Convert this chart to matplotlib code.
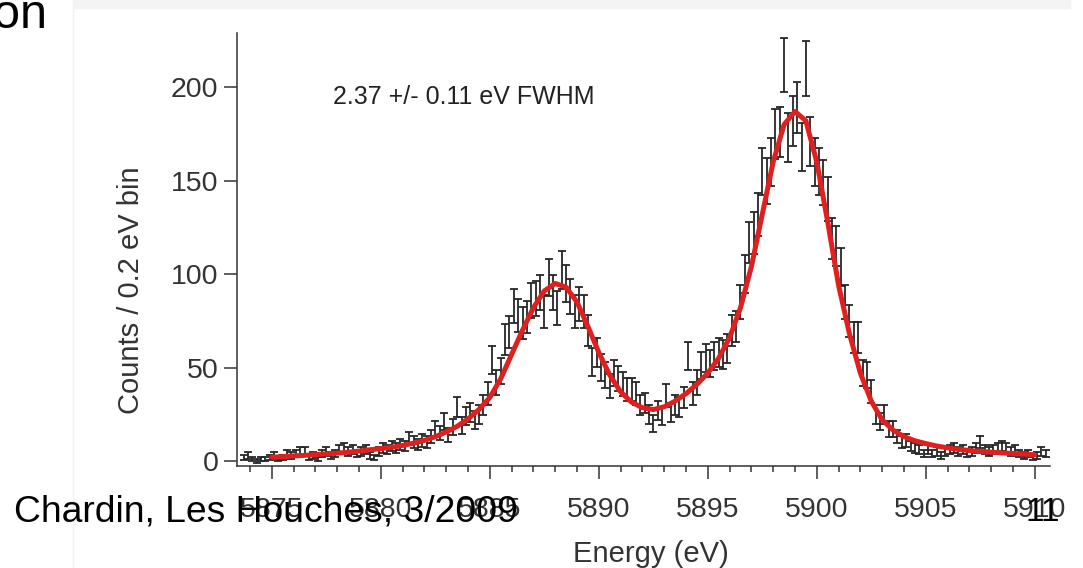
import numpy as np
import matplotlib
matplotlib.use("Agg")
import matplotlib.pyplot as plt
from matplotlib.ticker import MultipleLocator

plt.rcParams['font.family'] = ['Liberation Sans', 'DejaVu Sans']

# ---------------- data ----------------
# measured spectrum, 0.2 eV bins starting at 5873.7 eV
bin_start = 5873.7
bin_width = 0.2
counts = [
    2, 3, 1, 0, 1, 1, 2, 3, 1, 2,
    4, 3, 4, 5, 5, 2, 3, 1, 4, 5,
    3, 4, 6, 7, 5, 6, 4, 5, 6, 3,
    2, 5, 7, 6, 8, 7, 9, 8, 12, 10,
    9, 11, 10, 13, 17, 15, 21, 14, 18, 29,
    19, 24, 26, 22, 25, 30, 36, 54, 42, 48,
    65, 69, 83, 78, 74, 77, 86, 87, 90, 80,
    98, 90, 82, 102, 95, 88, 80, 84, 80, 70,
    53, 58, 50, 46, 40, 47, 44, 41, 38, 38,
    36, 30, 31, 25, 20, 27, 24, 35, 26, 30,
    29, 34, 56, 36, 42, 51, 55, 52, 56, 58,
    57, 60, 70, 72, 85, 100, 117, 122, 132, 155,
    150, 160, 175, 176, 212, 173, 182, 189, 168, 210,
    171, 160, 155, 149, 140, 119, 115, 104, 85, 75,
    66, 66, 47, 46, 37, 25, 21, 25, 17, 17,
    13, 10, 11, 8, 7, 6, 4, 6, 4, 5,
    3, 5, 6, 7, 5, 6, 4, 5, 7, 10,
    6, 5, 6, 7, 8, 7, 5, 6, 4, 3,
    4, 2, 3, 5, 4,
]

# fitted line (red), sampled every 0.5 eV
fit_energy = [
    5875.0, 5875.5, 5876.0, 5876.5, 5877.0, 5877.5, 5878.0, 5878.5, 5879.0, 5879.5,
    5880.0, 5880.5, 5881.0, 5881.5, 5882.0, 5882.5, 5883.0, 5883.5, 5884.0, 5884.5,
    5885.0, 5885.5, 5886.0, 5886.5, 5887.0, 5887.5, 5888.0, 5888.5, 5889.0, 5889.5,
    5890.0, 5890.5, 5891.0, 5891.5, 5892.0, 5892.5, 5893.0, 5893.5, 5894.0, 5894.5,
    5895.0, 5895.5, 5896.0, 5896.5, 5897.0, 5897.5, 5898.0, 5898.5, 5899.0, 5899.5,
    5900.0, 5900.5, 5901.0, 5901.5, 5902.0, 5902.5, 5903.0, 5903.5, 5904.0, 5904.5,
    5905.0, 5905.5, 5906.0, 5906.5, 5907.0, 5907.5, 5908.0, 5908.5, 5909.0, 5909.5,
    5910.0,
]
fit_counts = [
    2.0, 2.3, 2.7, 3.0, 3.4, 3.8, 4.2, 4.7, 5.3, 6.0,
    6.6, 7.3, 8.3, 9.5, 11.0, 13.0, 15.5, 18.5, 22.5, 27.5,
    34, 44, 57, 70, 82, 91, 95, 93, 85, 72,
    58, 46, 37, 31.5, 28.5, 27.5, 29, 32, 36, 41,
    47, 55, 66, 82, 104, 132, 160, 180, 187, 182,
    160, 128, 94, 68, 47, 32, 22, 16.5, 13, 10.8,
    9.3, 8.0, 7.0, 6.2, 5.6, 5.1, 4.7, 4.3, 4.0, 3.7,
    3.3,
]

x_ticks = [5875, 5880, 5885, 5890, 5895, 5900, 5905, 5910]
y_ticks = [0, 50, 100, 150, 200]

counts = np.array(counts, dtype=float)
energy = bin_start + bin_width * np.arange(len(counts))
errors = np.sqrt(np.maximum(counts, 1))  # poisson errors

# ---------------- figure ----------------
fig = plt.figure(figsize=(10.83, 5.68), dpi=100)
W, H = 1083, 568

# slide decorations (light band on top, edge of pasted picture)
fig.patches.append(plt.Rectangle((73 / W, 1 - 8 / H), (1070 - 73) / W, 8 / H,
                                 transform=fig.transFigure, color='#f4f4f4', zorder=0))
fig.lines.append(plt.Line2D([73 / W, 73 / W], [0, 1 - 8 / H], transform=fig.transFigure,
                            color='#f2f2f2', lw=1, zorder=0))

ax = fig.add_axes([237 / W, (568 - 466) / H, (1050 - 237) / W, (466 - 33) / H])
ax.patch.set_alpha(0)

dark = '#333333'
ax.errorbar(energy, counts, yerr=errors, fmt='none', ecolor='#262626',
            elinewidth=1.3, capsize=3.0, capthick=1.3, zorder=2)
ax.plot(fit_energy, fit_counts, color='#e01f1f', lw=3.6, zorder=3,
        solid_capstyle='round')

ax.set_xlim(5873.4, 5910.7)
ax.set_ylim(-2.7, 229)
ax.set_xticks(x_ticks)
ax.set_yticks(y_ticks)
ax.xaxis.set_minor_locator(MultipleLocator(1))

for s in ['top', 'right']:
    ax.spines[s].set_visible(False)
for s in ['left', 'bottom']:
    ax.spines[s].set_color(dark)
    ax.spines[s].set_linewidth(1.1)

ax.tick_params(axis='both', which='major', labelsize=20.5, colors=dark,
               labelcolor='#333333', width=1.1, length=9.5)
ax.tick_params(axis='y', pad=4)
ax.tick_params(axis='x', pad=13)
ax.tick_params(axis='x', which='minor', length=4, width=1.1, colors=dark)

ax.set_xlabel('Energy (eV)', fontsize=21, color='#333333')
ax.set_ylabel('Counts / 0.2 eV bin', fontsize=21, color='#333333')
ax.xaxis.set_label_coords(0.509, -0.172)
ax.yaxis.set_label_coords(-0.113, 0.405)

ax.text(5877.8, 195, '2.37 +/- 0.11 eV FWHM', fontsize=18, color='#222222',
        va='center', ha='left')

# slide overlay texts
fig.text(-7 / W, 1 - 28 / H, 'on', fontsize=35, color='black', va='baseline', ha='left')
fig.text(14 / W, 1 - 521 / H, 'Chardin, Les Houches, 3/2009', fontsize=26.8,
         color='black', va='baseline', ha='left')
fig.text(1026 / W, 1 - 521 / H, '11', fontsize=24, color='black',
         va='baseline', ha='left')

fig.savefig('out.png', dpi=100)
